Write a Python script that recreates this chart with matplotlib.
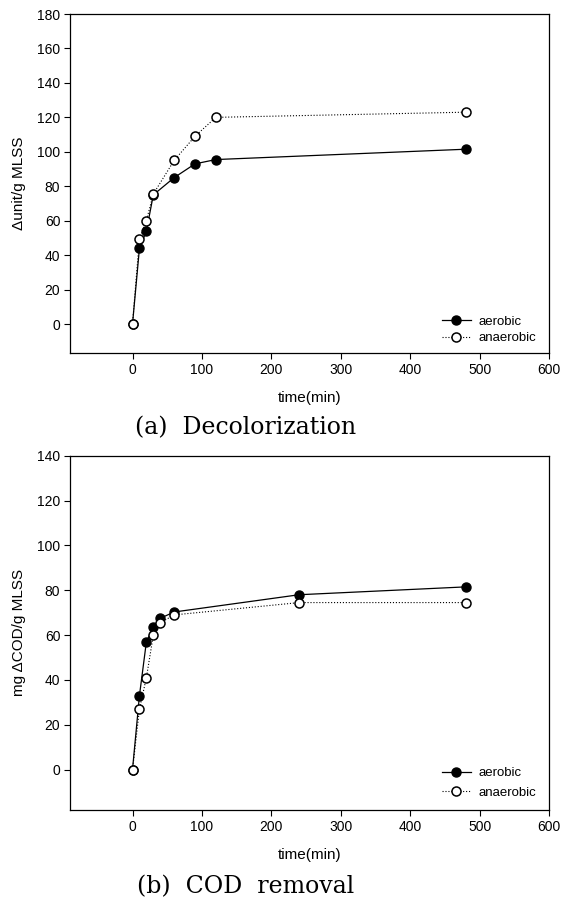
import matplotlib
matplotlib.use("Agg")
import matplotlib.pyplot as plt

plt.rcParams['font.family'] = ['Liberation Sans', 'DejaVu Sans']

# (a) decolorization
t_dec = [0, 10, 20, 30, 60, 90, 120, 480]
dec_aerobic = [0, 44, 54, 75, 85, 93, 95.5, 101.5]
dec_anaerobic = [0, 49.5, 60, 75.5, 95, 109, 120, 123]

# (b) COD removal
t_cod = [0, 10, 20, 30, 40, 60, 240, 480]
cod_aerobic = [0, 33, 57, 63.5, 67.5, 70.3, 78, 81.5]
cod_anaerobic = [0, 27, 41, 60, 65.5, 69, 74.5, 74.5]

fig = plt.figure(figsize=(5.62, 8.99), dpi=100)

def make_panel(rect, t, aer, ana, ymin, ymax, ylabel, leg_y, leg_sp):
    ax = fig.add_axes(rect)
    ax.plot(t, ana, linestyle=':', color='black', linewidth=0.8, marker='o',
            markersize=6.5, markerfacecolor='white', markeredgecolor='black',
            markeredgewidth=1.1, label='anaerobic', zorder=3)
    ax.plot(t, aer, linestyle='-', color='black', linewidth=0.9, marker='o',
            markersize=6.5, markerfacecolor='black', markeredgecolor='black',
            label='aerobic', zorder=2)
    ax.set_xlim(-90, 600)
    ax.set_ylim(ymin, ymax)
    ax.set_xticks(range(0, 601, 100))
    ax.set_yticks(range(0, ymax + 1, 20))
    ax.tick_params(direction='out', length=4, width=0.8, labelsize=10, pad=3,
                   top=False, right=False)
    for s in ax.spines.values():
        s.set_linewidth(0.9)
    ax.set_xlabel('time(min)', fontsize=11, labelpad=10)
    ax.set_ylabel(ylabel, fontsize=11, labelpad=8)
    h, l = ax.get_legend_handles_labels()
    ax.legend(h[::-1], l[::-1], loc='upper left', bbox_to_anchor=(0.776, leg_y),
              frameon=False, fontsize=9.5, handlelength=2.2, handletextpad=0.6,
              borderpad=0, borderaxespad=0, labelspacing=leg_sp)
    return ax

make_panel([0.1246, 0.607, 0.8523, 0.3774], t_dec, dec_aerobic, dec_anaerobic,
           -17, 180, '\u0394unit/g MLSS', 0.112, 0.35)
make_panel([0.1246, 0.099, 0.8523, 0.3941], t_cod, cod_aerobic, cod_anaerobic,
           -18, 140, 'mg \u0394COD/g MLSS', 0.121, 0.55)

fig.text(0.437, 1 - 428 / 899, '(a)  Decolorization', family='DejaVu Serif',
         fontsize=17, ha='center', va='center')
fig.text(0.437, 1 - 887 / 899, '(b)  COD  removal', family='DejaVu Serif',
         fontsize=17, ha='center', va='center')

fig.savefig('out.png', dpi=100)
